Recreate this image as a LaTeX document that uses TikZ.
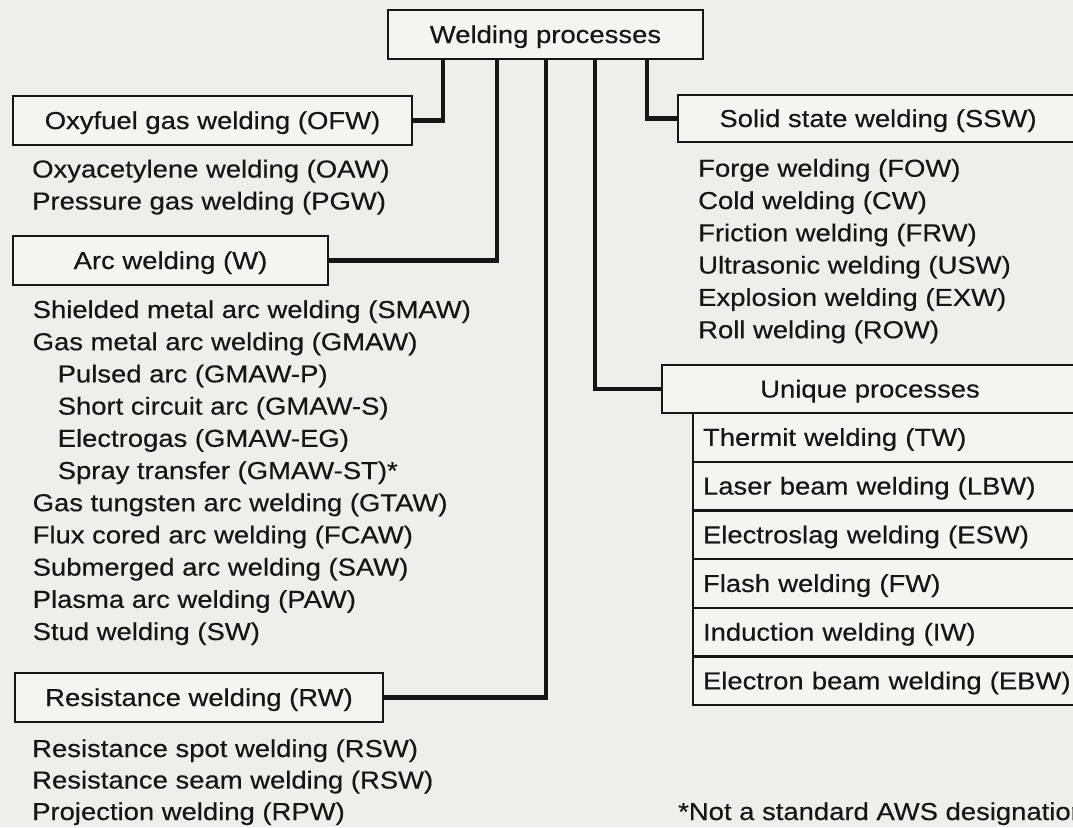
\documentclass[tikz,border=0pt]{standalone}
\usepackage{fontspec}
\setmainfont[FakeStretch=1.12,FakeBold=0.4]{Liberation Sans}
\definecolor{bg}{HTML}{EEEEEC}
\definecolor{boxfill}{HTML}{F4F4F3}
\definecolor{ink}{HTML}{161616}
\begin{document}
\begin{tikzpicture}[x=1pt,y=-1pt,
  font=\fontsize{24.5}{29}\selectfont, text=ink,
  box/.style={draw=ink, line width=2.6pt, fill=boxfill, inner sep=0pt,
    text height=17pt, text depth=0pt},
  rowbox/.style={draw=ink, line width=2.2pt, fill=boxfill, anchor=north west,
    inner xsep=10pt, inner ysep=0pt, outer sep=0pt, text width=400pt, align=left,
    minimum height=48.7pt, text height=17pt, text depth=0pt},
  conn/.style={draw=ink, line width=4.6pt, line join=miter},
  item/.style={anchor=base west, inner sep=0pt}]
\useasboundingbox (0,0) rectangle (1073,827);
\clip (0,0) rectangle (1073,827);
\fill[bg] (0,0) rectangle (1073,827);

% main boxes
\node[box, minimum width=315pt, minimum height=49pt] (wp) at (545.5,34.5) {Welding processes};
\node[box, minimum width=399pt, minimum height=49pt] (ofw) at (212.5,120.5) {Oxyfuel gas welding (OFW)};
\node[box, minimum width=315pt, minimum height=49pt] (aw) at (170.5,260.5) {Arc welding (W)};
\node[box, minimum width=368pt, minimum height=49pt] (rw) at (199,697.5) {Resistance welding (RW)};
\node[box, minimum width=400pt, minimum height=47pt] (ssw) at (878,118.5) {Solid state welding (SSW)};
\node[box, minimum width=416pt, minimum height=48pt] (up) at (870,389) {Unique processes};

% connectors
\draw[conn] (ofw.east) -| ([xshift=-102.5pt]wp.south);
\draw[conn] (aw.east) -| ([xshift=-48.5pt]wp.south);
\draw[conn] (rw.east) -| ([xshift=0.5pt]wp.south);
\draw[conn] (up.west) -| ([xshift=49.5pt]wp.south);
\draw[conn] (ssw.west) -| ([xshift=101.5pt]wp.south);

% oxyfuel list
\node[item] (oaw) at (32,177.5) {Oxyacetylene welding (OAW)};
\node[item] (pgw) at (32,209.5) {Pressure gas welding (PGW)};

% arc list
\node[item] (smaw) at (32.5,318) {Shielded metal arc welding (SMAW)};
\node[item] (gmaw) at (32.5,350.2) {Gas metal arc welding (GMAW)};
\node[item] (gmawp) at (57.5,382.4) {Pulsed arc (GMAW-P)};
\node[item] (gmaws) at (57.5,414.6) {Short circuit arc (GMAW-S)};
\node[item] (gmaweg) at (57.5,446.8) {Electrogas (GMAW-EG)};
\node[item] (gmawst) at (57.5,479) {Spray transfer (GMAW-ST)*};
\node[item] (gtaw) at (32.5,511.2) {Gas tungsten arc welding (GTAW)};
\node[item] (fcaw) at (32.5,543.4) {Flux cored arc welding (FCAW)};
\node[item] (saw) at (32.5,575.6) {Submerged arc welding (SAW)};
\node[item] (paw) at (32.5,607.8) {Plasma arc welding (PAW)};
\node[item] (sw) at (32.5,640) {Stud welding (SW)};

% resistance list
\node[item] (rsw) at (32,757) {Resistance spot welding (RSW)};
\node[item] (rseam) at (32,788.5) {Resistance seam welding (RSW)};
\node[item] (rpw) at (32,820) {Projection welding (RPW)};

% solid state list
\node[item] (fow) at (698,176.7) {Forge welding (FOW)};
\node[item] (cw) at (698,209) {Cold welding (CW)};
\node[item] (frw) at (698,241.3) {Friction welding (FRW)};
\node[item] (usw) at (698,273.6) {Ultrasonic welding (USW)};
\node[item] (exw) at (698,305.9) {Explosion welding (EXW)};
\node[item] (row) at (698,338.2) {Roll welding (ROW)};

% unique list
\node[rowbox] (tw) at (693,413) {Thermit welding (TW)};
\node[rowbox] (lbw) at (tw.south west) {Laser beam welding (LBW)};
\node[rowbox] (esw) at (lbw.south west) {Electroslag welding (ESW)};
\node[rowbox] (fw) at (esw.south west) {Flash welding (FW)};
\node[rowbox] (iw) at (fw.south west) {Induction welding (IW)};
\node[rowbox] (ebw) at (iw.south west) {Electron beam welding (EBW)};

% footnote
\node[item] (note) at (678,820) {*Not a standard AWS designation};
\end{tikzpicture}
\end{document}
